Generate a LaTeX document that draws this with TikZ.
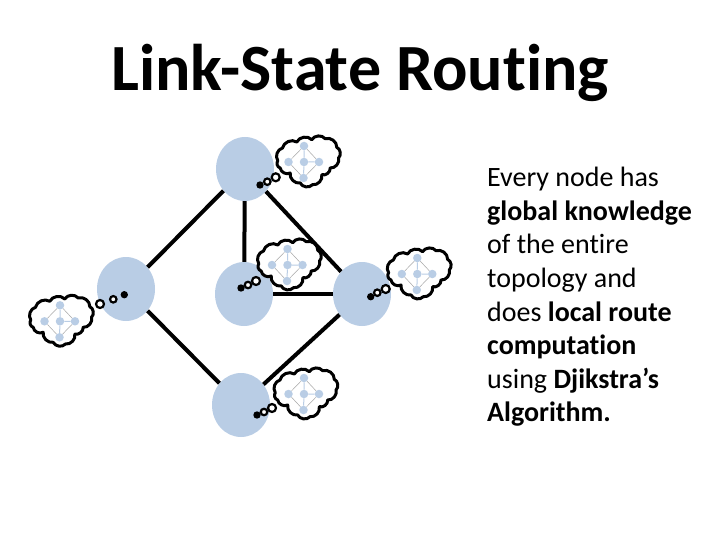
\documentclass[tikz,border=0pt]{standalone}
\usepackage{fontspec}
\setmainfont[Ligatures=NoCommon]{Carlito}
\definecolor{nodeblue}{HTML}{B9CDE5}
\definecolor{minigray}{HTML}{A6A6A6}
\tikzset{
  router/.style={ellipse,fill=nodeblue,minimum width=58pt,minimum height=64pt,inner sep=0pt},
  link/.style={line width=4pt,black},
  minidot/.style={circle,fill=nodeblue,minimum size=8.5pt,inner sep=0pt},
  minilink/.style={line width=.5pt,minigray},
  minispoke/.style={line width=1pt,nodeblue},
  bubble/.style={circle,draw=black,fill=white,line width=2.2pt,inner sep=0pt},
  cloudline/.style={line width=3pt,black,fill=white,line join=round},
  bump/.style={bend left=56}
}
\usetikzlibrary{shapes.geometric}
\newcommand{\thoughtcloud}[7]{% id, cx, cy, three bubble centres, outline x offset
\begin{scope}[shift={(#2,#3)}]
  \begin{scope}[shift={(#7,0)}]
  \draw[cloudline] (-24.7,-1.3) to[bump] (-20,-14) to[bump] (-5.7,-20) to[bump] (9.3,-22.3) to[bump] (22.7,-23.3)
     to[bump] (34.3,-14.7) to[bump] (36,-4) to[bump] (27.7,6) to[bump] (19.3,12.7) to[bump] (10,22.7)
     to[bump] (-2.3,21) to[bump] (-12.3,11) to[bump] (-22.3,6) to[bump] cycle;
  \end{scope}
  \node[minidot] (#1c) at (0,0) {};
  \node[minidot] (#1t) at (0,-16) {};
  \node[minidot] (#1l) at (-15.5,0) {};
  \node[minidot] (#1r) at (15,0) {};
  \node[minidot] (#1b) at (-0.5,16) {};
  \draw[minilink] (#1t)--(#1l) (#1l)--(#1b) (#1b)--(#1r) (#1r)--(#1t);
  \draw[minispoke] (#1c)--(#1t) (#1c)--(#1r) (#1c)--(#1b);
\end{scope}
\node[bubble,minimum size=8pt] (#1p) at (#4) {};
\node[bubble,minimum size=6.5pt] (#1q) at (#5) {};
\node[bubble,minimum size=5pt,fill=black] (#1s) at (#6) {};
}
\begin{document}
\begin{tikzpicture}[x=1pt,y=-1pt]
\useasboundingbox (0,0) rectangle (720,540);
\node[router] (top) at (245,169) {};
\node[router] (left) at (126,289) {};
\node[router] (mid) at (244,294) {};
\node[router] (right) at (362,294) {};
\node[router] (bot) at (241,405) {};
\draw[link] (top)--(left);
\draw[link] (top)--(mid);
\draw[link] (top)--(right);
\draw[link] (mid)--(right);
\draw[link] (left)--(bot);
\draw[link] (right)--(bot);
\thoughtcloud{a}{304}{162}{275.7,177.3}{267.3,181.7}{260,185}{-1.5}
\thoughtcloud{b}{287.5}{265}{256,281}{248,285}{241,288}{-4}
\thoughtcloud{c}{417.3}{274}{385.7,289}{377.3,292.7}{370.7,296.7}{-4}
\thoughtcloud{d}{60}{321.3}{100,304}{113.3,299.3}{124.3,294.7}{-4.5}
\thoughtcloud{e}{304}{394}{272,408}{264,412}{257,415}{-4}
\node[font=\fontsize{66}{70}\selectfont\bfseries,anchor=center] (title) at (360,72.5) {Link-State Routing};
\node[font=\fontsize{28}{33.6}\selectfont,anchor=north west,align=left,inner sep=0pt] (txt) at (487,167) {Every node has\\\textbf{global knowledge}\\of the entire\\topology and\\does \textbf{local route}\\\textbf{computation}\\using \textbf{Djikstra’s}\\\textbf{Algorithm.}};
\end{tikzpicture}
\end{document}
